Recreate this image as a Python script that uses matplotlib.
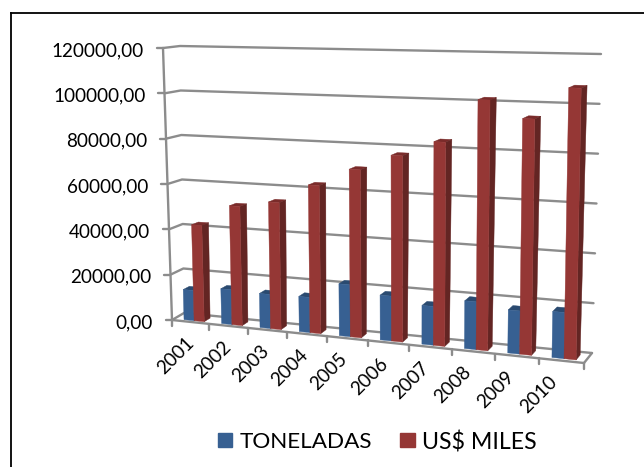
import numpy as np
import matplotlib
matplotlib.use('Agg')
from matplotlib import pyplot as plt
from matplotlib.collections import PolyCollection
from matplotlib.lines import Line2D
from matplotlib.patches import Rectangle
from matplotlib.transforms import Transform

plt.rcParams['font.family'] = ['Lato', 'DejaVu Sans']

years = ['2001', '2002', '2003', '2004', '2005', '2006', '2007', '2008', '2009', '2010']
toneladas = [13300, 15200, 14700, 15000, 21900, 18700, 16000, 19500, 17400, 18400]
usd_miles = [42300, 51800, 54600, 63000, 70700, 77500, 84000, 102000, 95000, 108000]
y_ticks = [0, 20000, 40000, 60000, 80000, 100000, 120000]
y_labels = ['0,00', '20000,00', '40000,00', '60000,00', '80000,00', '100000,00', '120000,00']

W, H = 644, 467
YMAX = 120000.0

# corners of the fake 3d box in image pixels: [left/right][bottom/top]
front = np.array([[[172, 320], [163, 48]], [[584, 363], [589, 59]]], dtype=float)
back = np.array([[[184, 313], [180, 46]], [[592, 353], [601, 54]]], dtype=float)


class Box3D(Transform):
    """(category, value) at some depth -> pixels. dz 0 is the front, 1 the back wall"""
    input_dims = 2
    output_dims = 2

    def __init__(self, dz=0.0):
        super().__init__()
        self.dz = dz

    def transform_non_affine(self, values):
        values = np.asarray(values, dtype=float)
        u = values[:, 0] / 10.0
        u = 0.9 * u + 0.1 * u ** 2
        v = values[:, 1] / YMAX
        c = front + (back - front) * self.dz
        out = np.zeros_like(values)
        for k in range(2):
            out[:, k] = ((1 - u) * (1 - v) * c[0, 0, k] + (1 - u) * v * c[0, 1, k]
                         + u * (1 - v) * c[1, 0, k] + u * v * c[1, 1, k])
        out[:, 1] = H - out[:, 1]
        return out


def pts(dz, *xy):
    return Box3D(dz).transform_non_affine(np.array(xy, dtype=float))


def line(ax, xs, ys, depths, **kw):
    # polyline that also moves in depth
    p = np.vstack([pts(d, (x, y)) for x, y, d in zip(xs, ys, depths)])
    ax.add_line(Line2D(p[:, 0], p[:, 1], **kw))


def draw_bar(ax, left, width, value, colors, d0=0.25, d1=0.75):
    r = left + width
    top = np.vstack([pts(d0, (left, value), (r, value)), pts(d1, (r, value), (left, value))])
    side = np.vstack([pts(d0, (r, 0), (r, value)), pts(d1, (r, value), (r, 0))])
    face = pts(d0, (left, 0), (r, 0), (r, value), (left, value))
    for poly, col in zip((top, side, face), (colors[1], colors[2], colors[0])):
        ax.add_collection(PolyCollection([poly], facecolors=col, edgecolors=col, linewidths=0.3, zorder=2),
                          autolim=False)


fig = plt.figure(figsize=(W / 100, H / 100), dpi=100)
ax = fig.add_axes([0, 0, 1, 1])
ax.set_xlim(0, W)
ax.set_ylim(0, H)
ax.axis('off')

# outer frame of the pasted picture
ax.plot([11.5, 11.5], [0, H - 12.5], color='black', lw=1.3)
ax.plot([11.5, 644], [H - 12.5, H - 12.5], color='black', lw=1.3)

grid = dict(color='#8c8c8c', lw=1.7, solid_capstyle='round')
for val, lab in zip(y_ticks, y_labels):
    line(ax, [0, 0, 10], [val, val, val], [0, 1, 1], zorder=1, **grid)
    p = pts(0, (0, val))[0]
    ax.plot([p[0] - 6, p[0]], [p[1], p[1]], zorder=1, **grid)
    ax.text(p[0] - 19, p[1] - 2.5, lab, ha='right', va='center', fontsize=13.6, color='black')

line(ax, [0, 0], [0, YMAX], [0, 0], zorder=1, **grid)
line(ax, [0, 10], [0, 0], [0, 0], zorder=1, **grid)
line(ax, [10, 10], [0, 0], [0, 1], zorder=1, **grid)

for i, yr in enumerate(years):
    p = pts(0, (i, 0))[0]
    ax.plot([p[0], p[0]], [p[1], p[1] - 6], zorder=1, **grid)
    c = pts(0, (i + 0.5, 0))[0]
    ax.text(c[0] - 5 - 0.9 * i, c[1] - 12, yr, rotation=45, ha='right', va='top', rotation_mode='anchor',
            fontsize=13.6, color='black')
p = pts(0, (10, 0))[0]
ax.plot([p[0], p[0]], [p[1], p[1] - 6], zorder=1, **grid)

blue = ('#376092', '#2a4a70', '#274a73')
red = ('#953735', '#7a2b2a', '#632523')
bw = 0.27
for i in range(len(years)):
    draw_bar(ax, i + 0.5 - bw, bw, toneladas[i], blue)
    draw_bar(ax, i + 0.5, bw, usd_miles[i], red)

# legend
ax.add_patch(Rectangle((218, H - 447), 14, 14, color='#376092'))
ax.text(240, H - 442, 'TONELADAS', fontsize=16.2, va='center', color='black')
ax.add_patch(Rectangle((400, H - 447), 15, 14, color='#953735'))
ax.text(422, H - 442, 'US$ MILES', fontsize=16.7, va='center', color='black')

fig.savefig('out.png', dpi=100)
